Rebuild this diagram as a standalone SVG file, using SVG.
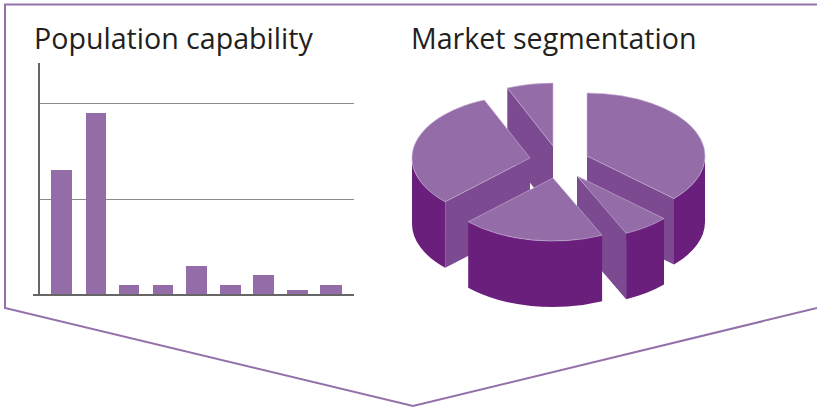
<svg xmlns="http://www.w3.org/2000/svg" width="817" height="408" viewBox="0 0 817 408">
<style>
.title{font-family:"Open Sans","Liberation Sans",sans-serif;font-size:28.6px;fill:#231f20}
.bar{fill:#946ca8}
.grid{stroke:#8a8a8a;stroke-width:1;fill:none}
.axis{stroke:#666;stroke-width:2;fill:none}
.top{fill:#946ca8;stroke:#c9b6d6;stroke-width:0.6;stroke-linejoin:round}
.cut{fill:#7c4a90}
.side{fill:#6a1f7c}
</style>
<g id="frame">
<polyline points="817,4.5 5,4.5 5,308 413,406 817,308" fill="none" stroke="#9470aa" stroke-width="2"/>
</g>
<g id="bar-chart">
<text class="title" x="34" y="49">Population capability</text>
<line class="grid" x1="39" y1="103.5" x2="354" y2="103.5"/>
<line class="grid" x1="39" y1="199.5" x2="354" y2="199.5"/>
<rect class="bar" x="51" y="170" width="21" height="125"/>
<rect class="bar" x="86" y="113" width="20" height="182"/>
<rect class="bar" x="119" y="285" width="20" height="10"/>
<rect class="bar" x="153" y="285" width="20" height="10"/>
<rect class="bar" x="186" y="266" width="21" height="29"/>
<rect class="bar" x="220" y="285" width="21" height="10"/>
<rect class="bar" x="253" y="275" width="21" height="20"/>
<rect class="bar" x="287" y="290" width="21" height="5"/>
<rect class="bar" x="320" y="285" width="22" height="10"/>
<line class="axis" x1="39" y1="63" x2="39" y2="296"/>
<line class="axis" x1="33" y1="295" x2="354" y2="295"/>
</g>
<g id="pie-chart">
<text class="title" x="411" y="49">Market segmentation</text>
<g id="slice-e">
<path class="cut" d="M553,146 L507.3,87.9 L507.3,153.9 L553,212 Z"/>
<path class="top" d="M553,146 L507.3,87.9 A118,63 0 0,1 553,83 Z"/>
</g>
<g id="slice-a">
<path class="side" d="M705,156 A118,63 0 0,1 674,198.6 L674,264.6 A118,63 0 0,0 705,222 Z"/>
<path class="cut" d="M587,156 L674,198.6 L674,264.6 L587,222 Z"/>
<path class="top" d="M587,156 L587,93 A118,63 0 0,1 674,198.6 Z"/>
</g>
<g id="slice-d">
<path class="side" d="M445.2,201.8 A118,63 0 0,1 412,158 L412,224 A118,63 0 0,0 445.2,267.8 Z"/>
<path class="cut" d="M530,158 L445.2,201.8 L445.2,267.8 L530,224 Z"/>
<path class="top" d="M530,158 L445.2,201.8 A118,63 0 0,1 484.3,99.9 Z"/>
</g>
<g id="slice-b">
<path class="side" d="M664,218.6 A118,63 0 0,1 626.1,233.3 L626.1,299.3 A118,63 0 0,0 664,284.6 Z"/>
<path class="cut" d="M577,176 L626.1,233.3 L626.1,299.3 L577,242 Z"/>
<path class="top" d="M577,176 L664,218.6 A118,63 0 0,1 626.1,233.3 Z"/>
</g>
<g id="slice-c">
<path class="side" d="M602.1,235.3 A118,63 0 0,1 468.2,221.8 L468.2,287.8 A118,63 0 0,0 602.1,301.3 Z"/>
<path class="top" d="M553,178 L602.1,235.3 A118,63 0 0,1 468.2,221.8 Z"/>
</g>
</g>
</svg>
